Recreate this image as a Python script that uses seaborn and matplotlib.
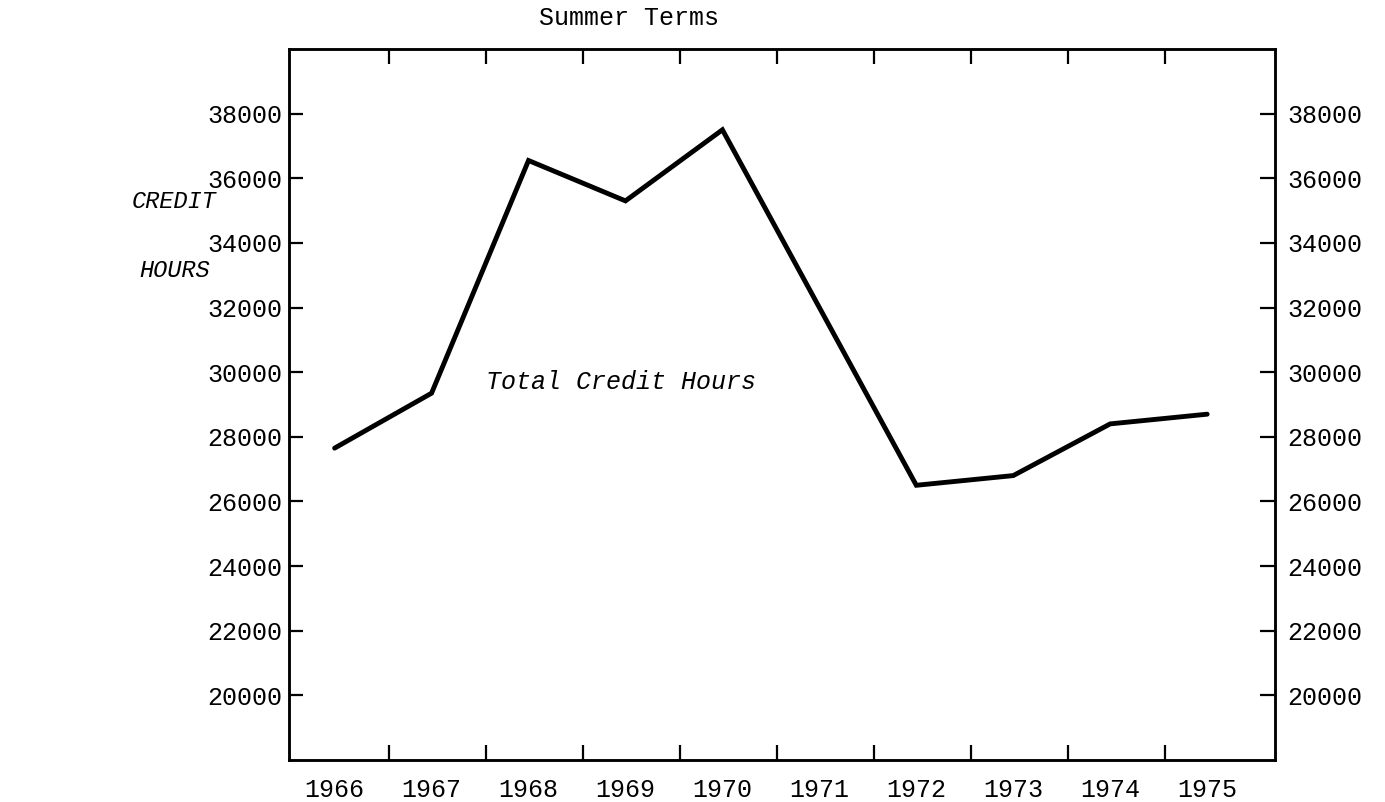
import numpy as np
import pandas as pd
import matplotlib.pyplot as plt
import seaborn as sns

years = ["1966", "1967", "1968", "1969", "1970", "1971", "1972", "1973", "1974", "1975"]
credit_hours = [27650, 29350, 36550, 35300, 37500, 32000, 26500, 26800, 28400, 28700]
y_ticks = [20000, 22000, 24000, 26000, 28000, 30000, 32000, 34000, 36000, 38000]

MONO = "Liberation Mono"


def make_chart():
    df = pd.DataFrame({"pos": np.arange(len(years)), "hours": credit_hours})

    sns.set_style("ticks")
    plt.rcParams["font.family"] = [MONO, "DejaVu Sans Mono"]
    plt.rcParams["text.color"] = "black"
    plt.rcParams["xtick.color"] = "black"
    plt.rcParams["ytick.color"] = "black"
    plt.rcParams["axes.labelcolor"] = "black"

    fig = plt.figure(figsize=(13.85, 8.02), dpi=100)
    ax = fig.add_axes([0.2087, 0.0524, 0.7119, 0.8865])

    sns.lineplot(data=df, x="pos", y="hours", ax=ax, color="black",
                 linewidth=3.5, solid_joinstyle="miter")

    ax.set_xlim(-0.47, 9.70)
    ax.set_ylim(18000, 40000)

    # years sit under the points, the tick marks fall between them
    ax.set_xticks(df["pos"])
    ax.set_xticklabels(years, fontsize=18)
    ax.set_xticks(df["pos"][:-1] + 0.56, minor=True)
    ax.tick_params(axis="x", which="major", length=0, pad=13, labelcolor="black")
    ax.tick_params(axis="x", which="minor", direction="in", length=11, width=1.6,
                   top=True, bottom=True, color="black")

    ax.set_yticks(y_ticks)
    ax.set_yticklabels([str(v) for v in y_ticks], fontsize=18)
    ax.tick_params(axis="y", direction="in", length=10, width=1.6, pad=5,
                   color="black", labelcolor="black", left=True, right=False)
    ax.set_xlabel("")
    ax.set_ylabel("")

    ax2 = ax.twinx()
    ax2.set_ylim(ax.get_ylim())
    ax2.set_yticks(y_ticks)
    ax2.set_yticklabels([str(v) for v in y_ticks], fontsize=18)
    ax2.tick_params(axis="y", direction="in", length=11, width=1.6, pad=9,
                    color="black", labelcolor="black")

    for a in (ax, ax2):
        for s in a.spines.values():
            s.set_visible(True)
            s.set_linewidth(1.8)
            s.set_color("black")

    ax.text(1.56, 29700, "Total Credit Hours", fontsize=18, style="italic",
            va="center", ha="left", color="black")
    fig.text(0.126, 0.749, "CREDIT", fontsize=17, style="italic", ha="center", va="center")
    fig.text(0.126, 0.663, "HOURS", fontsize=17, style="italic", ha="center", va="center")
    fig.text(0.454, 0.977, "Summer Terms", fontsize=18, ha="center", va="center")

    plt.savefig("out.png", dpi=100)
    plt.close()


make_chart()
